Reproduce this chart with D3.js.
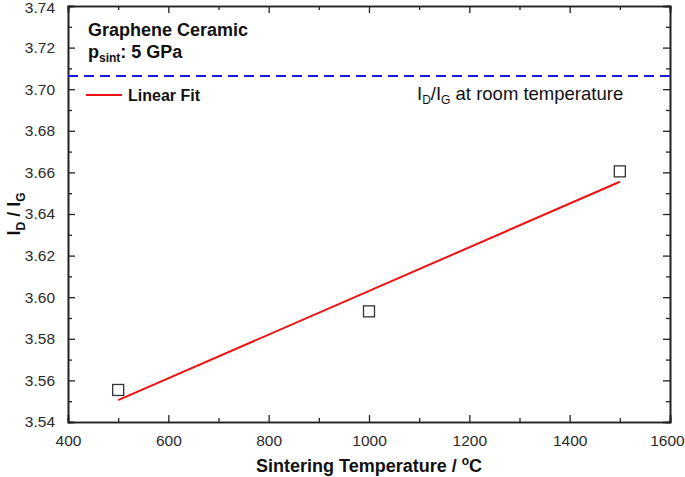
<!DOCTYPE html>
<html>
<head>
<meta charset="utf-8">
<script src="https://cdn.jsdelivr.net/npm/d3@7"></script>
<style>
  body { margin: 0; background: #fff; }
  svg { font-family: "Liberation Sans", Arial, Helvetica, sans-serif; }
</style>
</head>
<body>
<svg width="685" height="477"></svg>
<script>
// measured points
var temps = [500, 1000, 1500];
var ratios = [3.5554, 3.5932, 3.6605];
// linear fit end points
var fitTemps = [500, 1500];
var fitRatios = [3.5505, 3.6555];
// room temperature reference
var roomRatio = 3.7064;

var xTicks = [400, 600, 800, 1000, 1200, 1400, 1600];
var xMinor = [500, 700, 900, 1100, 1300, 1500];
var yTicks = [3.54, 3.56, 3.58, 3.60, 3.62, 3.64, 3.66, 3.68, 3.70, 3.72, 3.74];
var yMinor = [3.55, 3.57, 3.59, 3.61, 3.63, 3.65, 3.67, 3.69, 3.71, 3.73];

var svg = d3.select("svg");
var plotLeft = 68, plotRight = 670, plotTop = 6, plotBottom = 422;

var x = d3.scaleLinear().domain([400, 1600]).range([plotLeft, plotRight]);
var y = d3.scaleLinear().domain([3.54, 3.74]).range([plotBottom, plotTop]);

var axisColor = "#222";

function drawAxis(axisGen, tr) {
  var g = svg.append("g").attr("transform", tr).call(axisGen);
  g.select(".domain").attr("stroke", axisColor).attr("stroke-width", 1.6);
  g.selectAll(".tick line").attr("stroke", axisColor).attr("stroke-width", 1.3);
  g.selectAll(".tick text")
    .attr("fill", "#2a2a2a")
    .style("font-family", "'Liberation Sans', Arial, sans-serif")
    .style("font-size", "15.5px");
  return g;
}

// major ticks point inward
var xAxisG = drawAxis(d3.axisBottom(x).tickValues(xTicks).tickSize(-7).tickPadding(13).tickFormat(d3.format("d")),
  "translate(0," + plotBottom + ")");
var yAxisG = drawAxis(d3.axisLeft(y).tickValues(yTicks).tickSize(-7).tickPadding(13).tickFormat(d3.format(".2f")),
  "translate(" + plotLeft + ",0)");
// keep edge labels inside the window
xAxisG.selectAll(".tick text").filter(function (d) { return d === 1600; }).attr("dx", "-0.2em");
yAxisG.selectAll(".tick text").filter(function (d) { return d === 3.74; }).attr("dy", "0.45em");

drawAxis(d3.axisTop(x).tickValues(xTicks).tickSize(-7).tickFormat(""),
  "translate(0," + plotTop + ")");
drawAxis(d3.axisRight(y).tickValues(yTicks).tickSize(-7).tickFormat(""),
  "translate(" + plotRight + ",0)");

// minor ticks
drawAxis(d3.axisBottom(x).tickValues(xMinor).tickSize(-4).tickFormat(""), "translate(0," + plotBottom + ")");
drawAxis(d3.axisTop(x).tickValues(xMinor).tickSize(-4).tickFormat(""), "translate(0," + plotTop + ")");
drawAxis(d3.axisLeft(y).tickValues(yMinor).tickSize(-4).tickFormat(""), "translate(" + plotLeft + ",0)");
drawAxis(d3.axisRight(y).tickValues(yMinor).tickSize(-4).tickFormat(""), "translate(" + plotRight + ",0)");

// room temperature dashed line
svg.append("line")
  .attr("x1", plotLeft)
  .attr("x2", plotRight)
  .attr("y1", y(roomRatio))
  .attr("y2", y(roomRatio))
  .attr("stroke", "#1a1adc")
  .attr("stroke-width", 2)
  .attr("stroke-dasharray", "10,6");

// linear fit
var line = d3.line()
  .x(function (d) { return x(d[0]); })
  .y(function (d) { return y(d[1]); });

svg.append("path")
  .datum(d3.zip(fitTemps, fitRatios))
  .attr("d", line)
  .attr("fill", "none")
  .attr("stroke", "#ee1111")
  .attr("stroke-width", 2);

// data squares
var sq = 11;
svg.append("g")
  .selectAll("rect")
  .data(d3.zip(temps, ratios))
  .enter()
  .append("rect")
  .attr("x", function (d) { return x(d[0]) - sq / 2; })
  .attr("y", function (d) { return y(d[1]) - sq / 2; })
  .attr("width", sq)
  .attr("height", sq)
  .attr("fill", "none")
  .attr("stroke", "#333")
  .attr("stroke-width", 1.3);

// annotations
svg.append("text")
  .attr("x", 88)
  .attr("y", 36)
  .style("font-size", "18px")
  .style("font-weight", "bold")
  .attr("fill", "#111")
  .text("Graphene Ceramic");

var p = svg.append("text")
  .attr("x", 88)
  .attr("y", 58)
  .style("font-size", "18px")
  .style("font-weight", "bold")
  .attr("fill", "#111");
p.append("tspan").text("p");
p.append("tspan").attr("dy", 4).style("font-size", "12px").text("sint");
p.append("tspan").attr("dy", -4).text(": 5 GPa");

// legend
svg.append("line")
  .attr("x1", 86)
  .attr("x2", 122)
  .attr("y1", 95)
  .attr("y2", 95)
  .attr("stroke", "#ee1111")
  .attr("stroke-width", 2);

svg.append("text")
  .attr("x", 128)
  .attr("y", 101)
  .style("font-size", "16px")
  .style("font-weight", "bold")
  .attr("fill", "#111")
  .text("Linear Fit");

var rt = svg.append("text")
  .attr("x", 417)
  .attr("y", 100)
  .style("font-size", "18.5px")
  .attr("fill", "#111");
rt.append("tspan").text("I");
rt.append("tspan").attr("dy", 4).style("font-size", "12px").text("D");
rt.append("tspan").attr("dy", -4).text("/I");
rt.append("tspan").attr("dy", 4).style("font-size", "12px").text("G");
rt.append("tspan").attr("dy", -4).text(" at room temperature");

// axis titles
var xl = svg.append("text")
  .attr("x", 369)
  .attr("y", 472)
  .attr("text-anchor", "middle")
  .style("font-size", "18px")
  .style("font-weight", "bold")
  .attr("fill", "#111");
xl.append("tspan").text("Sintering Temperature / ");
xl.append("tspan").attr("dy", -7).style("font-size", "12px").text("o");
xl.append("tspan").attr("dy", 7).text("C");

var yl = svg.append("text")
  .attr("transform", "translate(20,214) rotate(-90)")
  .attr("text-anchor", "middle")
  .style("font-size", "18px")
  .style("font-weight", "bold")
  .attr("fill", "#111");
yl.append("tspan").text("I");
yl.append("tspan").attr("dy", 5).style("font-size", "12px").text("D");
yl.append("tspan").attr("dy", -5).text(" / I");
yl.append("tspan").attr("dy", 5).style("font-size", "12px").text("G");
</script>
</body>
</html>
